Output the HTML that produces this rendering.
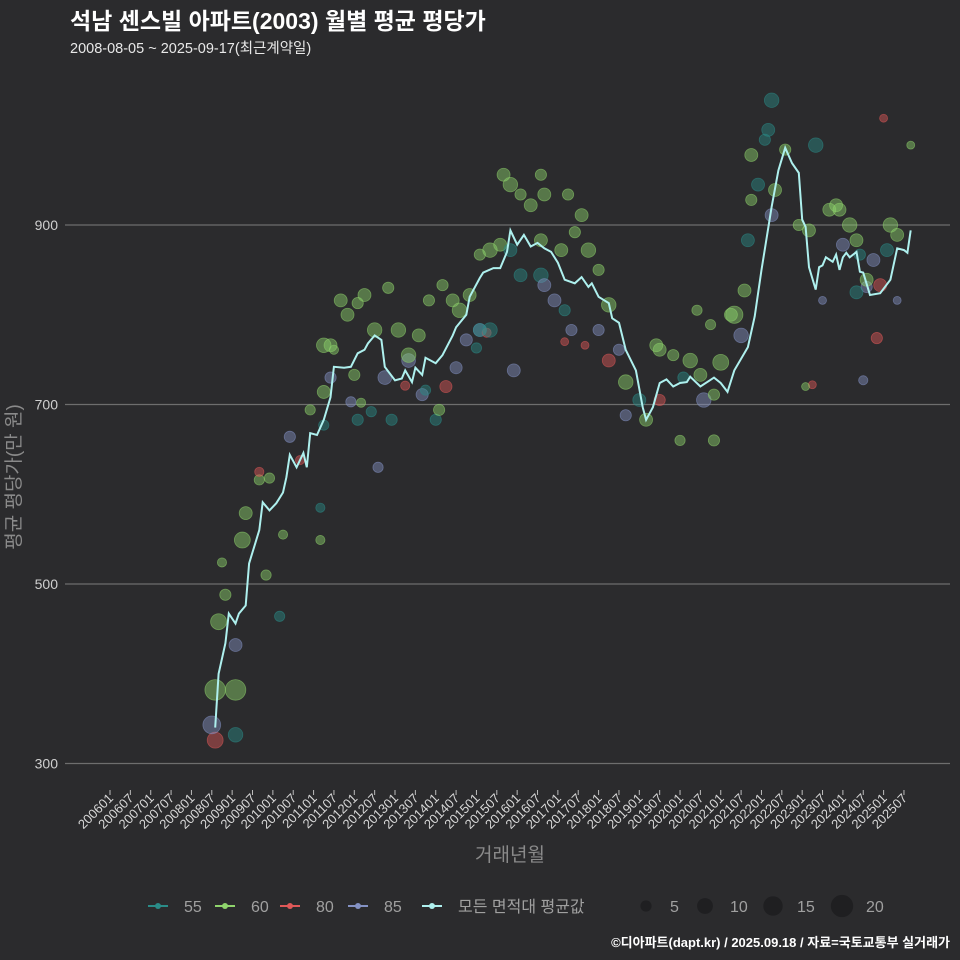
<!DOCTYPE html>
<html><head><meta charset="utf-8">
<style>
html,body{margin:0;padding:0;background:#2b2b2d;}
svg{display:block;font-family:"Liberation Sans","Noto Sans CJK KR",sans-serif;}
</style></head>
<body>
<svg id="chart" width="960" height="960" viewBox="0 0 960 960">
<rect width="960" height="960" fill="#2b2b2d"/>
<text x="70" y="29" fill="#ffffff" font-size="23" font-weight="bold">석남 센스빌 아파트(2003) 월별 평균 평당가</text>
<text x="70" y="53" fill="#e8e8e8" font-size="14.5">2008-08-05 ~ 2025-09-17(최근계약일)</text>
<g id="grid"></g>
<g id="yaxis"></g>
<g id="xaxis"></g>
<text transform="translate(20,477) rotate(-90)" text-anchor="middle" fill="#8a8a8a" font-size="19">평균 평당가(만 원)</text>
<text x="510" y="861" text-anchor="middle" fill="#8a8a8a" font-size="19">거래년월</text>
<g id="bubbles"></g>
<path id="meanline" fill="none" stroke="#aef0ee" stroke-width="2"/>
<g id="legend"></g>
<text x="950" y="947" text-anchor="end" fill="#ffffff" font-size="13" font-weight="bold">©디아파트(dapt.kr) / 2025.09.18 / 자료=국토교통부 실거래가</text>
</svg>
<script>
// month index counted from 2006-01 (0)
const yTicks = [300, 500, 700, 900];
const xTickLabels = ["200601","200607","200701","200707","200801","200807","200901","200907","201001","201007","201101","201107","201201","201207","201301","201307","201401","201407","201501","201507","201601","201607","201701","201707","201801","201807","201901","201907","202001","202007","202101","202107","202201","202207","202301","202307","202401","202407","202501","202507"];
const meanMonths = [31,32,34,35,37,38,40,41,44,45,47,49,51,52,53,55,57,58,59,61,63,65,66,69,71,73,75,76,78,80,81,84,86,87,89,90,92,93,96,98,101,102,105,106,109,110,113,115,117,118,120,122,124,126,128,130,132,134,137,139,141,142,144,147,148,150,152,155,157,158,160,162,164,166,168,170,171,174,178,180,182,184,188,190,192,195,197,199,201,203,204,205,206,208,209,210,211,213,214,215,216,217,218,220,221,222,224,227,230,232,234,235,236];
const meanValues = [340,400,434,467,456,467,476,523,560,591,582,590,602,619,644,630,646,630,668,666,683,708,742,741,742,757,761,768,777,772,742,727,729,738,725,741,733,752,746,755,777,786,800,820,841,847,852,852,870,894,878,889,876,880,874,870,858,839,835,842,831,835,820,813,796,791,761,738,697,683,697,724,728,720,724,725,731,720,730,724,714,738,764,798,850,920,961,986,969,958,906,898,853,828,853,855,864,859,867,850,864,869,864,870,848,847,822,824,839,874,872,869,894,911];
const bubbleMonths = [31,37,31,30,37,32,33,34,37,39,40,44,44,46,47,51,50,53,56,59,62,62,63,63,65,66,71,72,73,74,77,79,81,83,87,88,92,93,96,97,99,102,105,109,108,111,112,63,65,68,70,73,75,78,82,85,88,91,94,98,101,103,106,109,112,115,116,118,121,124,127,128,135,139,118,121,127,128,131,127,133,137,141,144,147,109,119,134,136,134,140,144,147,150,152,152,156,158,161,162,166,169,171,174,175,178,180,183,184,186,162,168,178,173,177,187,188,189,191,189,193,194,195,196,199,195,203,208,206,212,214,215,218,216,220,221,225,229,230,232,227,223,223,220,226,222,232,210,207,205,228,236];
const bubbleValues = [382,382,326,343,332,458,524,488,432,549,579,616,625,510,618,555,464,664,638,694,549,585,714,677,730,761,703,733,683,702,692,630,730,683,721,749,711,716,683,694,720,741,772,783,763,780,783,766,766,816,800,813,822,783,830,783,755,777,816,833,816,805,822,867,872,878,956,945,934,922,956,934,934,911,872,844,844,833,816,883,872,892,872,850,811,783,738,805,783,770,766,783,749,761,725,688,705,683,766,761,755,730,749,733,705,711,747,800,800,777,705,660,660,805,789,827,883,928,945,978,995,1006,1039,939,984,911,900,989,894,917,922,917,900,878,883,867,861,872,900,889,833,831,839,825,774,727,816,816,722,720,1019,989];
const bubbleTypes = ["60","60","80","85","55","60","60","60","85","60","60","60","80","60","60","60","55","85","80","60","60","55","60","55","85","60","85","60","55","60","55","85","85","55","80","85","85","55","55","60","80","85","85","85","55","80","55","60","60","60","60","60","60","60","60","60","60","60","60","60","60","60","60","60","60","60","60","60","60","60","60","60","60","60","55","55","55","85","85","60","60","60","60","60","60","55","85","55","85","80","80","85","80","85","60","85","55","60","60","60","60","55","60","60","85","60","60","60","60","85","80","60","60","60","60","60","55","60","55","60","55","55","55","60","60","85","60","55","60","60","60","60","60","85","60","55","85","55","60","60","80","85","60","55","80","85","85","85","80","60","80","60"];
const bubbleCounts = [20,20,12,15,10,12,4,6,8,12,8,5,4,5,5,4,5,6,4,5,4,4,8,5,6,4,5,6,6,4,5,5,9,6,4,9,7,5,6,6,7,7,7,8,5,4,10,10,8,8,8,6,8,10,6,10,10,8,6,6,8,10,8,6,10,8,8,10,6,8,6,8,6,8,8,8,10,8,8,8,8,6,10,6,10,8,8,6,6,3,3,6,8,6,10,6,8,8,8,8,6,6,10,8,10,6,12,8,14,10,6,5,6,5,5,8,8,6,8,8,6,8,10,8,6,8,6,10,8,8,8,8,10,8,8,6,8,8,10,8,8,6,8,8,6,4,3,3,3,3,3,3];

const NS = "http://www.w3.org/2000/svg";
const X0 = 110, DX = 3.393;
function xScale(m){ return X0 + m*DX; }
function yScale(v){ return 225 + (900 - v)*0.8975; }
function rScale(n){ return 2.3*Math.sqrt(n); }
const colors = {"55":"#2a8c88","60":"#8fd46c","80":"#e05858","85":"#8492c4"};
function mk(tag, attrs, parent){ const e=document.createElementNS(NS,tag); for(const k in attrs) e.setAttribute(k,attrs[k]); parent.appendChild(e); return e; }

const grid=document.getElementById('grid'), yaxis=document.getElementById('yaxis'), xaxis=document.getElementById('xaxis');
yTicks.forEach(v=>{
  const l=mk('line',{x1:65,x2:950,y1:yScale(v),y2:yScale(v),stroke:'#6e6e6e','stroke-width':1.2},grid);
  
  
  const t=mk('text',{x:58,y:yScale(v)+5,'text-anchor':'end',fill:'#cfcfcf','font-size':14},yaxis);
  t.textContent=v;
  
  
});
xTickLabels.forEach((lab,i)=>{
  const x=xScale(i*6);
  const tk=mk('line',{x1:x,x2:x,y1:790,y2:795,stroke:'#bbbbbb','stroke-width':1},xaxis);
  
  
  const t=mk('text',{transform:`translate(${x+4},${799}) rotate(-45)`,'text-anchor':'end',fill:'#d8d8d8','font-size':13},xaxis);
  t.textContent=lab;
  
  
});

const bg=document.getElementById('bubbles');
bubbleMonths.forEach((m,i)=>{
  const c=colors[bubbleTypes[i]];
  const b=mk('circle',{cx:xScale(m),cy:yScale(bubbleValues[i]),r:rScale(bubbleCounts[i]),fill:c,'fill-opacity':0.45,stroke:c,'stroke-opacity':0.55,'stroke-width':0.8},bg);
  
  
});

document.getElementById('meanline').setAttribute('d', meanMonths.map((m,i)=>(i?'L':'M')+xScale(m).toFixed(1)+','+yScale(meanValues[i]).toFixed(1)).join(''));

const lg=document.getElementById('legend');
const legItems=[["55",colors["55"],148],["60",colors["60"],215],["80",colors["80"],280],["85",colors["85"],348],["모든 면적대 평균값","#aef0ee",422]];
legItems.forEach(it=>{
  const g=mk('g',{},lg);
  
  
  mk('line',{x1:it[2],x2:it[2]+20,y1:906,y2:906,stroke:it[1],'stroke-width':2},g);
  mk('circle',{cx:it[2]+10,cy:906,r:3,fill:it[1]},g);
  const t=mk('text',{x:it[2]+36,y:912,fill:'#a0a0a0','font-size':16},g);
  t.textContent=it[0];
});
const sizeLeg=[[5,646,670],[10,705,730],[15,773,797],[20,842,866]];
sizeLeg.forEach(s=>{
  const g=mk('g',{},lg);
  
  
  mk('circle',{cx:s[1],cy:906,r:2.5*Math.sqrt(s[0]),fill:'#1f1f21'},g);
  const t=mk('text',{x:s[2],y:912,fill:'#a0a0a0','font-size':16},g);
  t.textContent=s[0];
});
</script>
</body></html>
